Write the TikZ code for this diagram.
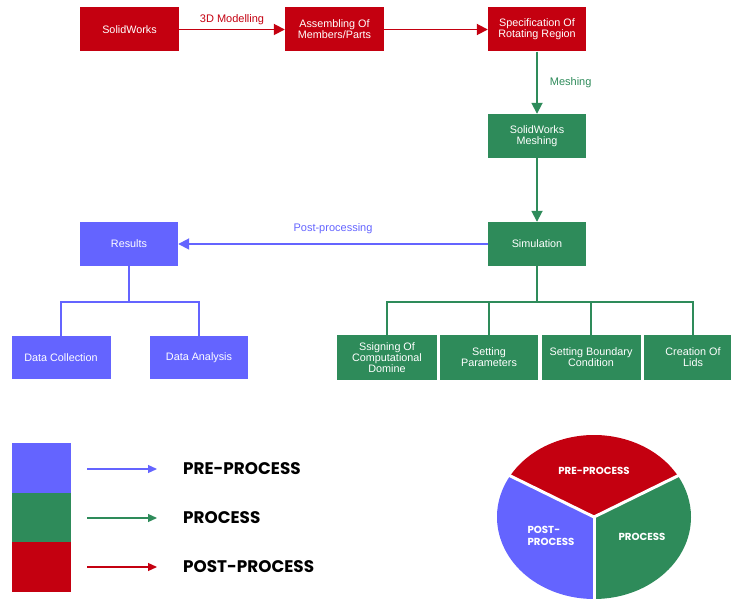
\documentclass[tikz,border=0pt]{standalone}
\usepackage{fontspec}
\setmainfont{Liberation Sans}
\newfontfamily\pop{Poppins}
\usetikzlibrary{arrows.meta,calc}
\definecolor{cred}{RGB}{196,0,16}
\definecolor{cgreen}{RGB}{46,139,90}
\definecolor{cblue}{RGB}{100,100,255}
\tikzset{
  box/.style={rectangle, inner sep=0pt, text=white, align=center,
    minimum width=98pt, minimum height=44pt,
    font=\fontsize{10.8}{11}\selectfont},
  rbox/.style={box, fill=cred},
  gbox/.style={box, fill=cgreen},
  bbox/.style={box, fill=cblue},
  arr/.style={line width=1.8pt, -{Triangle[length=11pt,width=11pt]}},
  tree/.style={line width=1.8pt},
  lab/.style={inner sep=0pt, font=\fontsize{11}{12}\selectfont},
  legarr/.style={line width=1.2pt, -{Triangle[length=9pt,width=8pt]}},
  legtxt/.style={anchor=west, inner sep=0pt, font=\pop\bfseries\fontsize{16.8}{18}\selectfont},
  pietxt/.style={text=white, inner sep=0pt, font=\pop\bfseries\fontsize{10.2}{12.5}\selectfont},
}
\begin{document}
\begin{tikzpicture}[x=1pt,y=-1pt]
\useasboundingbox (0,0) rectangle (731,601);
\clip (0,0) rectangle (731,601);
% top row
\node[rbox, minimum width=99pt] (sw) at (129.5,29.5) {SolidWorks};
\node[rbox, minimum width=99pt] (asm) at (334.5,29.5) {Assembling Of\\Members/Parts};
\node[rbox] (spec) at (537,29.5) {Specification Of\\Rotating Region};
\node[gbox] (mesh) at (537,136) {SolidWorks\\Meshing};
\node[gbox] (sim) at (537,244) {Simulation};
\node[bbox] (res) at (129,244) {Results};
\node[bbox, minimum width=99pt, minimum height=43pt] (dc) at (61,357.5) {Data Collection};
\node[bbox, minimum height=43pt] (da) at (199,357.5) {Data Analysis};
\node[gbox, minimum width=100pt, minimum height=45pt] (g1) at (387,357.5) {Ssigning Of\\Computational\\Domine};
\node[gbox, minimum height=45pt] (g2) at (489,357.5) {Setting\\Parameters};
\node[gbox, minimum width=99pt, minimum height=45pt] (g3) at (591,357.5) {Setting Boundary\\Condition};
\node[gbox, minimum height=45pt] (g4) at (693,357.5) {Creation Of\\Lids};
% connectors
\draw[arr, cred] (sw) -- node[lab, above=4pt, text=cred] {3D Modelling} (asm);
\draw[arr, cred] (asm) -- (spec);
\draw[arr, cgreen] (spec) -- node[lab, right=12pt, text=cgreen] {Meshing} (mesh);
\draw[arr, cgreen] (mesh) -- (sim);
\draw[arr, cblue] (sim) -- node[lab, above=9pt, text=cblue] {Post-processing} (res);
% trees
\coordinate (rb) at (129,302);
\draw[tree, cblue] (res.south) -- (rb);
\draw[tree, cblue] (dc.north) |- (rb) -| (da.north);
\coordinate (sb) at (537,302);
\draw[tree, cgreen] (sim.south) -- (sb);
\draw[tree, cgreen] (g1.north) |- (sb) -| (g4.north);
\draw[tree, cgreen] (g2.north) -- (g2.north |- sb);
\draw[tree, cgreen] (g3.north) -- (g3.north |- sb);
% legend
\fill[cblue] (12,443) rectangle (71,493.5);
\fill[cgreen] (12,493) rectangle (71,542.5);
\fill[cred] (12,542) rectangle (71,592);
\coordinate (a1) at (87,469); \coordinate (b1) at (157,469);
\coordinate (a2) at (87,518); \coordinate (b2) at (157,518);
\coordinate (a3) at (87,567); \coordinate (b3) at (157,567);
\draw[legarr, cblue] (a1) -- (b1);
\draw[legarr, cgreen] (a2) -- (b2);
\draw[legarr, cred] (a3) -- (b3);
\node[legtxt] (l1) at (183,469) {PRE-PROCESS};
\node[legtxt] (l2) at (183,518) {PROCESS};
\node[legtxt] (l3) at (183,567) {POST-PROCESS};
% pie
\coordinate (pc) at (594,517);
\fill[cred] (pc) -- ++(30:97pt and 82pt) arc[start angle=30, end angle=150, x radius=97pt, y radius=82pt] -- cycle;
\fill[cblue] (pc) -- ++(150:97pt and 82pt) arc[start angle=150, end angle=270, x radius=97pt, y radius=82pt] -- cycle;
\fill[cgreen] (pc) -- ++(270:97pt and 82pt) arc[start angle=270, end angle=390, x radius=97pt, y radius=82pt] -- cycle;
\draw[white, line width=3pt] (pc) -- ++(30:100pt and 85pt);
\draw[white, line width=3pt] (pc) -- ++(150:100pt and 85pt);
\draw[white, line width=3pt] (pc) -- ++(270:100pt and 85pt);
\node[pietxt] (p1) at (594,471) {PRE-PROCESS};
\node[pietxt, align=left] (p2) at (551,536) {POST-\\PROCESS};
\node[pietxt] (p3) at (642,537) {PROCESS};
\end{tikzpicture}
\end{document}
